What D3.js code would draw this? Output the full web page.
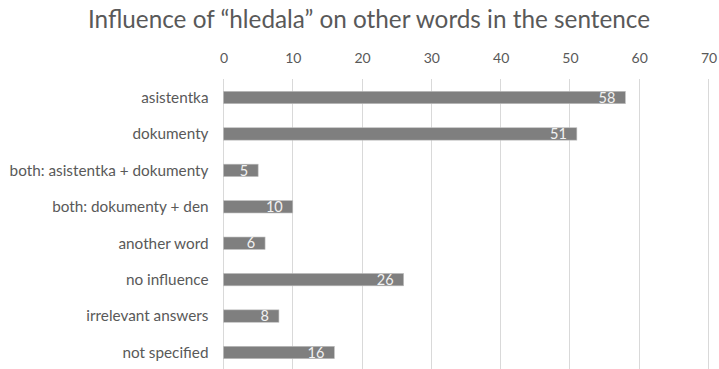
<!DOCTYPE html>
<html>
<head>
<meta charset="utf-8">
<script src="https://cdn.jsdelivr.net/npm/d3@7"></script>
<style>
  html, body { margin: 0; padding: 0; background: #fff; }
  svg { display: block; font-family: Lato, "Open Sans", sans-serif; }
</style>
</head>
<body>
<svg id="chart" width="719" height="369"></svg>
<script>
// Categories and counts, top to bottom
const categories = [
  "asistentka",
  "dokumenty",
  "both: asistentka + dokumenty",
  "both: dokumenty + den",
  "another word",
  "no influence",
  "irrelevant answers",
  "not specified"
];
const counts = [58, 51, 5, 10, 6, 26, 8, 16];
const tickValues = [0, 10, 20, 30, 40, 50, 60, 70];
const title = "Influence of “hledala” on other words in the sentence";

const svg = d3.select("#chart");
const W = 719, H = 369;
const plot = { left: 223.5, right: 708.5, top: 79.3, bottom: 370.7 };

const x = d3.scaleLinear().domain([0, 70]).range([plot.left, plot.right]);
const y = d3.scaleBand().domain(categories).range([plot.top, plot.bottom]).paddingInner(0.66).paddingOuter(0.33);

// Title
svg.append("text")
  .attr("x", 369).attr("y", 28)
  .attr("text-anchor", "middle")
  .attr("font-size", 24.3)
  .attr("fill", "#595959")
  .text(title);

// Vertical gridlines
svg.append("g").selectAll("line")
  .data(tickValues)
  .join("line")
  .attr("x1", d => x(d) ).attr("x2", d => x(d))
  .attr("y1", 79).attr("y2", H)
  .attr("stroke", "#d9d9d9").attr("stroke-width", 1)
  .attr("shape-rendering", "crispEdges");

// Top axis labels
const axis = svg.append("g")
  .attr("transform", `translate(0,${plot.top - 16})`)
  .call(d3.axisTop(x).tickValues(tickValues).tickSize(0).tickPadding(0));
axis.select(".domain").remove();
axis.selectAll("text")
  .attr("font-family", "Lato, 'Open Sans', sans-serif")
  .attr("font-size", 14)
  .attr("fill", "#595959");

// Category labels
svg.append("g").selectAll("text")
  .data(categories)
  .join("text")
  .attr("x", plot.left - 15)
  .attr("y", d => y(d) + y.bandwidth() / 2)
  .attr("dy", "0.35em")
  .attr("text-anchor", "end")
  .attr("font-size", 15.3)
  .attr("fill", "#595959")
  .text(d => d);

// Bars
const rows = categories.map((c, i) => ({ c, v: counts[i] }));
svg.append("g").selectAll("rect")
  .data(rows)
  .join("rect")
  .attr("x", x(0))
  .attr("y", d => y(d.c))
  .attr("width", d => x(d.v) - x(0))
  .attr("height", y.bandwidth())
  .attr("fill", "#7f7f7f")
  .attr("stroke", "#bfbfbf").attr("stroke-width", 0.6);

// Value labels inside bar ends
svg.append("g").selectAll("text")
  .data(rows)
  .join("text")
  .attr("x", d => x(d.v) - 10)
  .attr("y", d => y(d.c) + y.bandwidth() / 2)
  .attr("dy", "0.36em")
  .attr("text-anchor", "end")
  .attr("font-size", 14.5)
  .attr("fill", "#f2f2f2")
  .text(d => d.v);
</script>
</body>
</html>
